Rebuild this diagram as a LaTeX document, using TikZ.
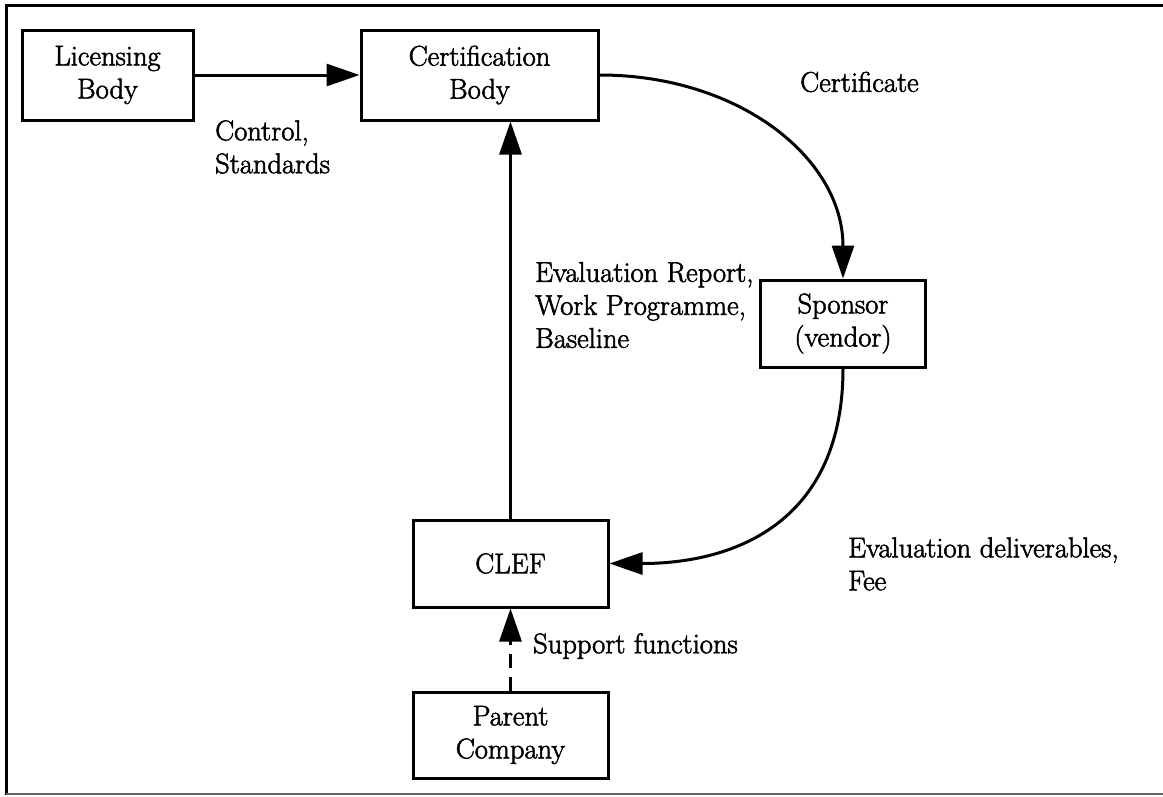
\documentclass[tikz,border=0pt]{standalone}
\usepackage{fontspec}
\setmainfont{Latin Modern Roman}[FakeBold=2]
\usetikzlibrary{arrows.meta}
\begin{document}
\begin{tikzpicture}[x=1pt,y=-1pt,
  txt/.style={font=\fontsize{28.5}{33}\selectfont},
  box/.style={txt, draw, line width=3pt, align=center, inner sep=0pt},
  lbl/.style={txt, align=left, inner sep=0pt, anchor=west},
  flow/.style={line width=3pt, -{Triangle[length=33pt,width=22pt]}},
  support/.style={flow, dash pattern=on 14pt off 9pt},
]
\useasboundingbox (0,0) rectangle (1163,796);

% outer frame (top, left, bottom)
\draw[line width=3pt] (6,795) -- (6,5) -- (1163,5);
\draw[line width=1.5pt, black!60] (6,794) -- (1163,794);

% organisations
\node[box, minimum width=171pt, minimum height=90pt] (lic)     at (107.5,75)  {Licensing\\Body};
\node[box, minimum width=237pt, minimum height=90pt] (cert)    at (479.5,75)  {Certification\\Body};
\node[box, minimum width=165pt, minimum height=87pt] (sponsor) at (843,323.5) {Sponsor\\(vendor)};
\node[box, minimum width=195pt, minimum height=87pt] (clef)    at (510.5,563.5) {CLEF};
\node[box, minimum width=195pt, minimum height=86pt] (parent)  at (510.5,735)  {Parent\\Company};

% flows between them
\draw[flow] (lic.east) -- (cert.west);
\draw[flow] (clef.north) -- (clef.north |- cert.south);
\draw[flow] (cert.east) .. controls +(140,0) and +(0,-120) .. (sponsor.north);
\draw[flow] (sponsor.south) .. controls +(0,150) and +(130,0) .. (clef.east);
\draw[support] (parent.north) -- (clef.south);

% flow labels
\node[lbl] (l1) at (215,147) {Control,\\Standards};
\node[lbl] (l2) at (800,82) {Certificate};
\node[lbl] (l3) at (535,305) {Evaluation Report,\\Work Programme,\\Baseline};
\node[lbl] (l4) at (533,646) {Support functions};
\node[lbl] (l5) at (848,564) {Evaluation deliverables,\\Fee};
\end{tikzpicture}
\end{document}
